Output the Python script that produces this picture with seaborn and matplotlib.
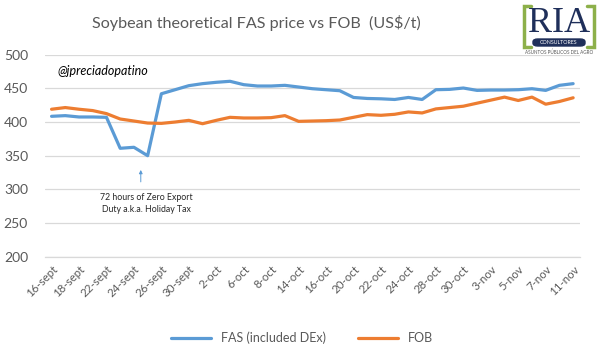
import numpy as np
import pandas as pd
import matplotlib
matplotlib.use("Agg")
import matplotlib.pyplot as plt
import seaborn as sns
from matplotlib.lines import Line2D
from matplotlib.patches import FancyBboxPatch

dates = ['16-sept', '17-sept', '18-sept', '19-sept', '22-sept', '23-sept', '24-sept', '25-sept',
         '26-sept', '29-sept', '30-sept', '1-oct', '2-oct', '3-oct', '6-oct', '7-oct', '8-oct',
         '9-oct', '14-oct', '15-oct', '16-oct', '17-oct', '20-oct', '21-oct', '22-oct', '23-oct',
         '24-oct', '27-oct', '28-oct', '29-oct', '30-oct', '31-oct', '3-nov', '4-nov', '5-nov',
         '6-nov', '7-nov', '10-nov', '11-nov']
fas = [408.5, 409.5, 407.5, 407.5, 407, 361, 362.5, 350, 442, 448,
       454, 457, 459, 460.5, 455.5, 453.5, 453.5, 454.5, 452, 449.5,
       448, 446.5, 436.5, 435, 434.5, 433.5, 436.5, 433.5, 448, 448.5,
       450.5, 447, 447.5, 447.5, 448, 449.5, 447, 454.5, 457]
fob = [419, 421.5, 419, 417, 412.5, 404.5, 401.5, 398.5, 398, 400,
       402.5, 397.5, 402.5, 407, 406, 406, 406.5, 409.5, 401, 401.5,
       402, 403, 407, 411, 410, 411.5, 415, 413.5, 419.5, 421.5,
       423.5, 428, 432.5, 437, 432, 437, 426.5, 430.5, 436]
series_names = ['FAS (included DEx)', 'FOB']
yticks = [200, 250, 300, 350, 400, 450, 500]

df = pd.concat([
    pd.DataFrame({'date': dates, 'value': fas, 'series': series_names[0]}),
    pd.DataFrame({'date': dates, 'value': fob, 'series': series_names[1]}),
])

sns.set_theme(style='white')
plt.rcParams['font.family'] = ['Lato', 'DejaVu Sans']

W, H = 604, 352
fig = plt.figure(figsize=(W / 100, H / 100), dpi=100)
ax = fig.add_axes([44.7 / W, 1 - 256.7 / H, (580 - 44.7) / W, (256.7 - 54.7) / H])

palette = {series_names[0]: '#5B9BD5', series_names[1]: '#ED7D31'}
sns.lineplot(data=df, x='date', y='value', hue='series', palette=palette, sort=False,
             linewidth=2.3, ax=ax, legend=False)

ax.set_xlim(-0.5, len(dates) - 0.5)
ax.set_ylim(200, 500)
ax.set_yticks(yticks)
ax.set_yticklabels([str(v) for v in yticks], fontsize=10, color='#595959')
ax.set_xticks(range(0, len(dates), 2))
ax.set_xticklabels(dates[::2], rotation=45, ha='right', rotation_mode='anchor',
                   fontsize=8.3, color='#595959')
ax.set_xticks(np.arange(-0.5, len(dates), 1), minor=True)
ax.tick_params(axis='x', which='major', length=0, pad=5)
ax.tick_params(axis='x', which='minor', length=4, color='#d9d9d9', width=0.8, direction='out')
ax.tick_params(axis='y', length=0, pad=12)
ax.grid(axis='y', color='#d9d9d9', linewidth=0.9)
ax.set_axisbelow(True)
for s in ['top', 'right', 'left']:
    ax.spines[s].set_visible(False)
ax.spines['bottom'].set_color('#d9d9d9')
ax.spines['bottom'].set_linewidth(0.9)
ax.set_xlabel('')
ax.set_ylabel('')

# annotation
ax.annotate('', xy=(6.5, 333), xytext=(6.5, 307),
            arrowprops=dict(arrowstyle='-|>', color='#5B9BD5', lw=0.7, mutation_scale=5))
ax.text(6.9, 294, '72 hours of Zero Export\nDuty a.k.a. Holiday Tax', ha='center', va='top',
        fontsize=6.3, color='#262626', linespacing=1.3)

# title & handle
fig.text(256 / W, 1 - 23 / H, 'Soybean theoretical FAS price vs FOB  (US$/t)', ha='center',
         va='center', fontsize=11.6, color='#595959')
fig.text(57 / W, 1 - 71 / H, '@jpreciadopatino', ha='left', va='center', fontsize=9,
         style='italic', color='#000000')

# legend
handles = [Line2D([0], [0], color=palette[n], lw=2.3) for n in series_names]
fig.legend(handles, series_names, loc='center', bbox_to_anchor=(0.5, 1 - 338 / H), ncol=2,
           frameon=False, fontsize=9, handlelength=3.2, columnspacing=2.5,
           labelcolor='#595959')

# logo
green = '#8DB04A'
navy = '#1F2F5A'
def fx(x):
    return x / W
def fy(y):
    return 1 - y / H
for pts in ([(531, 6), (524, 6), (524, 47), (531, 47)], [(587, 6), (594, 6), (594, 47), (587, 47)]):
    fig.add_artist(Line2D([fx(p[0]) for p in pts], [fy(p[1]) for p in pts], color=green,
                          lw=2.5, solid_joinstyle='miter'))
fig.text(fx(559), fy(23), 'RIA', ha='center', va='center', fontsize=26,
         family='Liberation Serif', color=navy)
fig.add_artist(FancyBboxPatch((fx(533), fy(46)), fx(585) - fx(533), fy(39) - fy(46),
                              boxstyle='round,pad=0,rounding_size=0.008', color=navy,
                              transform=fig.transFigure))
fig.text(fx(559), fy(42.5), 'CONSULTORES', ha='center', va='center', fontsize=3.8,
         color='white')
fig.text(fx(559), fy(52), 'ASUNTOS PÚBLICOS DEL AGRO', ha='center', va='center',
         fontsize=3.3, color='#595959')

fig.savefig('out.png', dpi=100)
